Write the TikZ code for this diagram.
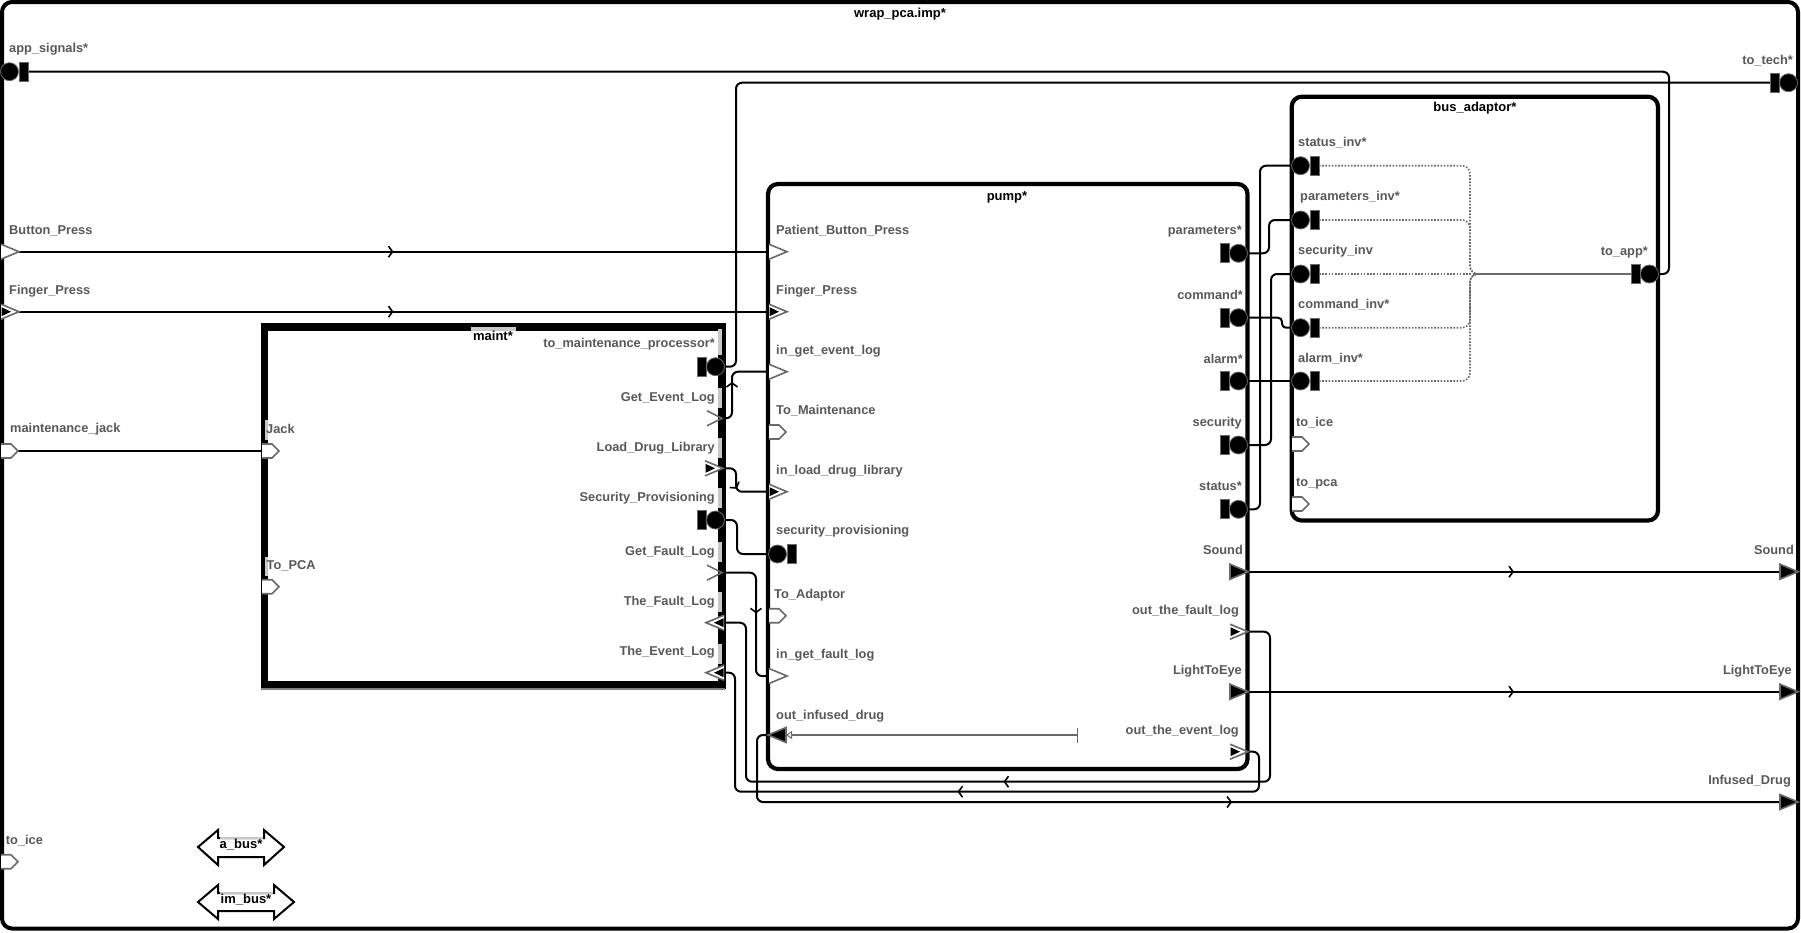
\documentclass[tikz,border=0pt]{standalone}
\usepackage{fontspec}
\setmainfont{Liberation Sans}
\usetikzlibrary{arrows.meta,decorations.markings,calc}

\definecolor{lblgray}{RGB}{88,88,88}
\definecolor{portgray}{RGB}{105,105,105}
\definecolor{patchgray}{RGB}{200,200,200}
\definecolor{flowgray}{RGB}{105,105,105}

\tikzset{
  outerframe/.style={line width=4pt, rounded corners=10pt},
  compbox/.style={line width=4.2pt, rounded corners=10pt},
  conn/.style={line width=2pt, rounded corners=6pt, line join=round},
  dotconn/.style={draw=flowgray, line width=1.6pt, dash pattern=on 1.6pt off 1.6pt, rounded corners=8pt},
  midarrow/.style={postaction={decorate}, decoration={markings,
      mark=at position 0.5 with {\arrow{Straight Barb[length=4pt,width=11pt,line width=1.6pt]}}}},
  lbl/.style={font=\fontsize{12.8}{14}\selectfont\bfseries, text=lblgray, inner sep=0pt},
  lw/.style={lbl, anchor=base west},
  le/.style={lbl, anchor=base east},
  ttl/.style={font=\fontsize{13}{15}\selectfont\bfseries, inner sep=0pt, anchor=base},
  glyph/.style={draw=portgray, line width=1.6pt, line join=miter},
  busline/.style={line width=2pt, line join=miter},
  % event port (open triangle)
  evin/.pic={\filldraw[glyph, fill=white] (1,-7.5) -- (19,0) -- (1,7.5);},
  % event data port (open triangle with a filled core)
  edin/.pic={\filldraw[glyph, fill=white] (1,-7.5) -- (19,0) -- (1,7.5);
             \fill[black] (1.5,-4.5) -- (11,0) -- (1.5,4.5) -- cycle;},
  % data port (filled triangle)
  dpin/.pic={\filldraw[glyph, fill=black] (1,-7.5) -- (19,0) -- (1,7.5) -- cycle;},
  % outgoing event port drawn as a chevron
  chev/.pic={\draw[glyph] (0,-7.5) -- (15,0) -- (0,7.5);},
  % abstract feature
  absf/.pic={\filldraw[glyph, fill=white] (1,-7) -- (11,-7) -- (18,0) -- (11,7) -- (1,7);},
  % bus access / feature group
  bacc/.pic={\filldraw[draw=portgray, fill=black, line width=0.8pt] (9.5,0) circle (9pt);
             \filldraw[draw=portgray, fill=black, line width=0.8pt] (19,-9.5) rectangle (28,9.5);}
}

\begin{document}
\begin{tikzpicture}[x=1pt,y=-1pt]
\useasboundingbox (0,0) rectangle (1801,932);

% ---------- containers ----------
\draw[outerframe] (2,2) rectangle (1798,928.5);
\node[ttl] (t-wrap) at (900,17.5) {wrap\_pca.imp*};

\draw[compbox] (768,184) rectangle (1247.5,769);
\node[ttl] (t-pump) at (1007,200) {pump*};

\draw[compbox] (1291.7,96.7) rectangle (1658,520.5);
\node[ttl] (t-bus) at (1475,111.5) {bus\_adaptor*};

\draw[line width=7.4pt] (264.2,327) rectangle (721.8,685);
\draw[gray, line width=2.5pt] (261,689) -- (725,689);
% label backings on the maint border
\fill[patchgray] (471,326.5) rectangle (516,330.7);
\fill[patchgray] (264.5,420) rectangle (268,440);
\fill[patchgray] (264.5,557) rectangle (268,576);
\foreach \yc in {397.7,447.7,497.7,551.7,601.7,653.7}
  \fill[patchgray] (718.3,\yc-10) rectangle (722.3,\yc+10);
\fill[patchgray] (718.3,329) rectangle (722.3,355);
\node[ttl] (t-maint) at (493,340.5) {maint*};

% ---------- port attachment points ----------
% outer frame
\coordinate (o-appsig) at (28,71.7);
\coordinate (o-button) at (19,251.7);
\coordinate (o-finger) at (19,311.7);
\coordinate (o-mjack) at (18,451);
\coordinate (o-totech) at (1770,82.7);
\coordinate (o-sound) at (1780,571.7);
\coordinate (o-lte) at (1780,691.7);
\coordinate (o-infused) at (1780,802);
% pump
\coordinate (p-pbp) at (768,251.7);
\coordinate (p-fp) at (768,311.7);
\coordinate (p-igel) at (768,371.7);
\coordinate (p-ildl) at (768,491.7);
\coordinate (p-sp) at (768,554);
\coordinate (p-igfl) at (768,676);
\coordinate (p-oid) at (768,735);
\coordinate (p-oidin) at (786,735);
\coordinate (p-flowend) at (1078,735);
\coordinate (p-par) at (1248,253.3);
\coordinate (p-cmd) at (1248,317.7);
\coordinate (p-alarm) at (1248,381);
\coordinate (p-sec) at (1248,445);
\coordinate (p-stat) at (1248,509.3);
\coordinate (p-sound) at (1248,571.7);
\coordinate (p-otfl) at (1248,631.7);
\coordinate (p-lte) at (1248,691.7);
\coordinate (p-otel) at (1248,751.7);
% bus adaptor
\coordinate (b-statinv) at (1291,165.7);
\coordinate (b-parinv) at (1291,220);
\coordinate (b-secinv) at (1291,274);
\coordinate (b-cmdinv) at (1291,327.7);
\coordinate (b-alarminv) at (1291,381);
\coordinate (b-statinv-r) at (1319,165.7);
\coordinate (b-parinv-r) at (1319,220);
\coordinate (b-secinv-r) at (1319,274);
\coordinate (b-cmdinv-r) at (1319,327.7);
\coordinate (b-alarminv-r) at (1319,381);
\coordinate (b-jn) at (1478,274);
\coordinate (b-toapp) at (1659,274);
\coordinate (b-toapp-in) at (1631,274);
% maint
\coordinate (m-tmp) at (725,366.7);
\coordinate (m-gel) at (722,418.3);
\coordinate (m-ldl) at (722,468.3);
\coordinate (m-sp) at (725,520);
\coordinate (m-gfl) at (722,572.7);
\coordinate (m-tfl) at (724,622.7);
\coordinate (m-tel) at (724,672.7);
\coordinate (m-jack) at (262,451);

% ---------- connections ----------
\draw[conn] (o-appsig) -| ([xshift=10pt]b-toapp) -- (b-toapp);
\draw[conn] (m-tmp) -- ++(11,0) |- (o-totech);
\draw[conn,midarrow] (o-button) -- (p-pbp);
\draw[conn,midarrow] (o-finger) -- (p-fp);
\draw[conn] (o-mjack) -- (m-jack);
\draw[conn,midarrow] (m-gel) -- ++(10,0) |- (p-igel);
\draw[conn,midarrow] (m-ldl) -- ++(14,0) |- (p-ildl);
\draw[conn] (m-sp) -- ++(12,0) |- (p-sp);
\draw[conn,midarrow] (m-gfl) -- ++(34,0) |- (p-igfl);
\draw[conn,midarrow] (p-otfl) -- ++(22,0) -- ++(0,150) -| ([xshift=22pt]m-tfl) -- (m-tfl);
\draw[conn,midarrow] (p-otel) -- ++(11,0) -- ++(0,40) -| ([xshift=11pt]m-tel) -- (m-tel);
\draw[conn,midarrow] (p-oid) -- ++(-11,0) |- (o-infused);
\draw[conn,midarrow] (p-sound) -- (o-sound);
\draw[conn,midarrow] (p-lte) -- (o-lte);
\draw[conn] (p-par) -- ++(21,0) |- (b-parinv);
\draw[conn] (p-stat) -- ++(12,0) |- (b-statinv);
\draw[conn] (p-sec) -- ++(23,0) |- (b-secinv);
\draw[conn, rounded corners=4pt] (p-cmd) -- ++(34,0) |- (b-cmdinv);
\draw[conn] (p-alarm) -- (b-alarminv);

% inside bus_adaptor
\draw[dotconn] (b-statinv-r) -| ([xshift=-8pt]b-jn) -- (b-jn);
\draw[dotconn] (b-parinv-r) -| ([xshift=-8pt]b-jn) -- (b-jn);
\draw[dotconn] (b-cmdinv-r) -| ([xshift=-8pt]b-jn) -- (b-jn);
\draw[dotconn] (b-alarminv-r) -| ([xshift=-8pt]b-jn) -- (b-jn);
\draw[dotconn] (b-secinv-r) -- (b-jn);
\draw[flowgray, line width=1.8pt] (b-jn) -- (b-toapp-in);

% flow inside pump
\draw[flowgray, line width=1.5pt, {Bar[width=15pt,line width=1.5pt]}-{Triangle[open,length=6pt,width=8pt,line width=1pt]}] (p-flowend) -- (p-oidin);

% ---------- port glyphs ----------
% outer frame
\pic at (0,71.7) {bacc};
\pic at (0,251.7) {evin};
\pic at (0,311.7) {edin};
\pic at (0,451) {absf};
\pic at (0,861.7) {absf};
\pic[xscale=-1] at (1798,82.7) {bacc};
\pic at (1779,571.7) {dpin};
\pic at (1779,691.7) {dpin};
\pic at (1779,802) {dpin};
% pump
\pic at (768,251.7) {evin};
\pic at (768,311.7) {edin};
\pic at (768,371.7) {evin};
\pic at (768,432) {absf};
\pic at (768,491.7) {edin};
\pic at (768,554) {bacc};
\pic at (768,615.7) {absf};
\pic at (768,676) {evin};
\pic[xscale=-1] at (787,735) {dpin};
\foreach \yp in {253.3,317.7,381,445,509.3}
  \pic[xscale=-1] at (1248,\yp) {bacc};
\pic at (1229,571.7) {dpin};
\pic at (1229,631.7) {edin};
\pic at (1229,691.7) {dpin};
\pic at (1229,751.7) {edin};
% bus adaptor
\foreach \yp in {165.7,220,274,327.7,381}
  \pic at (1291,\yp) {bacc};
\pic at (1291,444) {absf};
\pic at (1291,504) {absf};
\pic[xscale=-1] at (1659,274) {bacc};
% maint
\pic[xscale=-1] at (725,366.7) {bacc};
\pic at (707,418.3) {chev};
\pic at (704,468.3) {edin};
\pic[xscale=-1] at (725,520) {bacc};
\pic at (707,572.7) {chev};
\pic[xscale=-1] at (725,622.7) {edin};
\pic[xscale=-1] at (725,672.7) {edin};
\pic at (261,451) {absf};
\pic at (261,586.7) {absf};

% ---------- buses ----------
\draw[busline] (198,847) -- (218,830) -- (218,838) -- (264,838) -- (264,830) -- (284,847)
  -- (264,865) -- (264,857) -- (218,857) -- (218,865) -- cycle;
\draw[patchgray, line width=2pt] (219.5,838) -- (262.5,838);
\node[ttl] (n-abus) at (241,848.5) {a\_bus*};
\draw[busline] (198,902) -- (218,885) -- (218,893) -- (274,893) -- (274,885) -- (294,902)
  -- (274,919) -- (274,911) -- (218,911) -- (218,919) -- cycle;
\draw[patchgray, line width=2pt] (219.5,893) -- (272.5,893);
\node[ttl] (n-imbus) at (246,903.5) {im\_bus*};

% ---------- labels ----------
\node[lw] (l-appsig) at (9,52.7) {app\_signals*};
\node[lw] (l-button) at (9,234.7) {Button\_Press};
\node[lw] (l-finger) at (9,294.7) {Finger\_Press};
\node[lw] (l-mjack) at (10,432.5) {maintenance\_jack};
\node[lw] (l-toice) at (5.7,844.7) {to\_ice};
\node[le] (l-totech) at (1793,64) {to\_tech*};
\node[le] (l-sound) at (1794,554.7) {Sound};
\node[le] (l-lte) at (1792,674.7) {LightToEye};
\node[le] (l-infused) at (1791,784.7) {Infused\_Drug};

\node[lw] (l-pbp) at (776,234.7) {Patient\_Button\_Press};
\node[lw] (l-pfp) at (776,294.7) {Finger\_Press};
\node[lw] (l-igel) at (776,354.7) {in\_get\_event\_log};
\node[lw] (l-tomaint) at (776,414.7) {To\_Maintenance};
\node[lw] (l-ildl) at (776,474.7) {in\_load\_drug\_library};
\node[lw] (l-psp) at (776,534.7) {security\_provisioning};
\node[lw] (l-toadapt) at (774,598.7) {To\_Adaptor};
\node[lw] (l-igfl) at (776,658.7) {in\_get\_fault\_log};
\node[lw] (l-oid) at (776,719) {out\_infused\_drug};

\node[le] (l-par) at (1242,234.7) {parameters*};
\node[le] (l-cmd) at (1243,299) {command*};
\node[le] (l-alarm) at (1243,363) {alarm*};
\node[le] (l-sec) at (1242,426.7) {security};
\node[le] (l-stat) at (1242,490.7) {status*};
\node[le] (l-psound) at (1243,554.7) {Sound};
\node[le] (l-otfl) at (1239,614.7) {out\_the\_fault\_log};
\node[le] (l-plte) at (1242,674.7) {LightToEye};
\node[le] (l-otel) at (1239,734.7) {out\_the\_event\_log};

\node[lw] (l-statinv) at (1298,146.7) {status\_inv*};
\node[lw] (l-parinv) at (1300,200.7) {parameters\_inv*};
\node[lw] (l-secinv) at (1298,254.7) {security\_inv};
\node[lw] (l-cmdinv) at (1298,308.3) {command\_inv*};
\node[lw] (l-alarminv) at (1298,362.7) {alarm\_inv*};
\node[lw] (l-btoice) at (1296,426.7) {to\_ice};
\node[lw] (l-btopca) at (1296,486.7) {to\_pca};
\node[le] (l-toapp) at (1648,255) {to\_app*};

\node[le] (l-tmp) at (715,347.3) {to\_maintenance\_processor*};
\node[le] (l-gel) at (715,401.7) {Get\_Event\_Log};
\node[le] (l-ldl) at (715,451.7) {Load\_Drug\_Library};
\node[le] (l-msp) at (715,501.7) {Security\_Provisioning};
\node[le] (l-gfl) at (715,555.7) {Get\_Fault\_Log};
\node[le] (l-tfl) at (715,605.7) {The\_Fault\_Log};
\node[le] (l-tel) at (715,655.7) {The\_Event\_Log};
\node[lw] (l-jack) at (266,433.3) {Jack};
\node[lw] (l-topca) at (266.5,569.7) {To\_PCA};
\end{tikzpicture}
\end{document}
